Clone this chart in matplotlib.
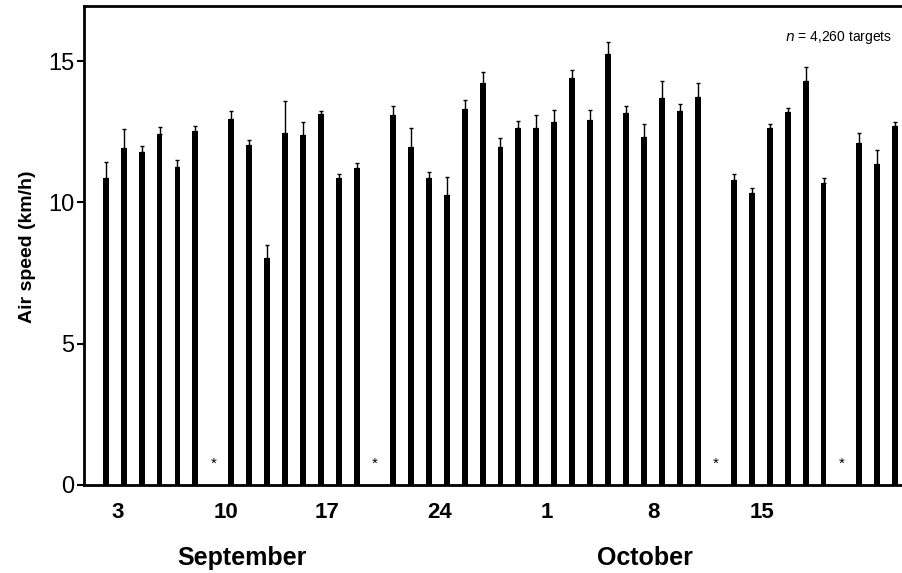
import numpy as np
import matplotlib.pyplot as plt

plt.rcParams.update({
    'font.family': 'Liberation Sans',
    'font.size': 13,
})

# nights in sequence, slot index; missing nights are marked with *
n_slots = 45
missing = [6, 15, 34, 41]
speed = [10.87, 11.91, 11.79, 12.42, 11.27, 12.52,
         12.95, 12.02, 8.05, 12.45, 12.40, 13.12, 10.85, 11.20,
         13.08, 11.96, 10.85, 10.26, 13.31, 14.21, 11.96, 12.65, 12.62,
         12.86, 14.42, 12.92, 15.26, 13.15, 12.33, 13.68, 13.23, 13.72,
         10.79, 10.33, 12.63, 13.19, 14.29, 10.67,
         12.09, 11.35, 12.70]
err_top = [11.44, 12.59, 12.00, 12.66, 11.50, 12.71,
           13.22, 12.21, 8.50, 13.59, 12.85, 13.25, 11.01, 11.38,
           13.42, 12.62, 11.08, 10.89, 13.63, 14.60, 12.29, 12.89, 13.11,
           13.27, 14.69, 13.28, 15.68, 13.42, 12.79, 14.30, 13.49, 14.23,
           10.99, 10.52, 12.76, 13.35, 14.80, 10.85,
           12.46, 11.86, 12.86]
day_labels = ['3', '10', '17', '24', '1', '8', '15']
day_pos = [0.65, 6.7, 12.35, 18.6, 24.6, 30.5, 36.6]
months = ['September', 'October']
month_pos = [7.58, 30.05]

x = np.array([i for i in range(n_slots) if i not in missing])
speed = np.array(speed)
err = np.array(err_top) - speed

fig = plt.figure(figsize=(9.03, 5.73), dpi=100)
ax = fig.add_axes([0.093, 0.1536, 0.907, 0.8359])

ax.bar(x, speed, width=0.33, color='black', zorder=2)
ax.errorbar(x, speed, yerr=[np.zeros_like(err), err], fmt='none',
            ecolor='black', elinewidth=1.0, capsize=1.5, capthick=1.0, zorder=1)

for m in missing:
    ax.text(m, 0.75, '*', ha='center', va='center', fontsize=11)

ax.set_xlim(-1.21, 44.43)
ax.set_ylim(0, 16.95)
ax.set_yticks([0, 5, 10, 15])
ax.set_xticks(day_pos)
ax.set_xticklabels(day_labels, fontweight='bold', fontsize=16)
ax.tick_params(axis='x', length=0, pad=12)
ax.tick_params(axis='y', length=5, width=1.5, labelsize=17, pad=2)
ax.set_ylabel('Air speed (km/h)', fontweight='bold', fontsize=14)
ax.yaxis.set_label_coords(-0.058, 0.497)

for s in ['top', 'left', 'bottom']:
    ax.spines[s].set_linewidth(2)
ax.spines['right'].set_visible(False)

trans = ax.get_xaxis_transform()
for name, pos in zip(months, month_pos):
    ax.text(pos, -0.152, name, transform=trans, ha='center', va='center',
            fontsize=18, fontweight='bold')

ax.text(0.987, 0.935, r'$n$ = 4,260 targets', transform=ax.transAxes,
        ha='right', va='center', fontsize=10)

fig.savefig('out.png', dpi=100)
